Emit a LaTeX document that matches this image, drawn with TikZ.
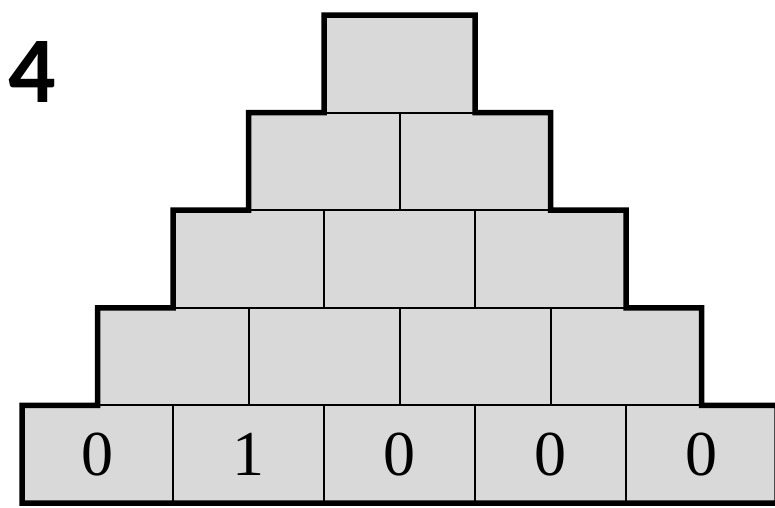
\documentclass[tikz,border=0pt]{standalone}
\usepackage{fontspec}
\setmainfont{Liberation Serif}
\newfontfamily\labelfont{Carlito}
\definecolor{boxgray}{HTML}{D9D9D9}
\begin{document}
\begin{tikzpicture}[x=1pt,y=-1pt,
  cell/.style={draw=black,fill=boxgray,line width=2pt,minimum width=151pt,minimum height=97.6pt,inner sep=0pt,outer sep=0pt,font=\fontsize{64}{64}\selectfont},
  outline/.style={draw=black,line width=5.5pt,line join=miter}]
\useasboundingbox (0,0) rectangle (775,507);
\clip (0,0) rectangle (775,507);
% row 5 (bottom)
\node[cell] (e1) at (97.5,454.2) {0};
\node[cell] (e2) at (248.5,454.2) {1};
\node[cell] (e3) at (399.5,454.2) {0};
\node[cell] (e4) at (550.5,454.2) {0};
\node[cell] (e5) at (701.5,454.2) {0};
% row 4
\node[cell] (d1) at (173,356.6) {};
\node[cell] (d2) at (324,356.6) {};
\node[cell] (d3) at (475,356.6) {};
\node[cell] (d4) at (626,356.6) {};
% row 3
\node[cell] (c1) at (248.5,259) {};
\node[cell] (c2) at (399.5,259) {};
\node[cell] (c3) at (550.5,259) {};
% row 2
\node[cell] (b1) at (324,161.4) {};
\node[cell] (b2) at (475,161.4) {};
% row 1
\node[cell] (a1) at (399.5,63.8) {};
% outer outline
\draw[outline] (e1.south west) -- (e1.north west) -- (d1.south west) -- (d1.north west)
  -- (c1.south west) -- (c1.north west) -- (b1.south west) -- (b1.north west)
  -- (a1.south west) -- (a1.north west) -- (a1.north east) -- (a1.south east)
  -- (b2.north east) -- (b2.south east) -- (c3.north east) -- (c3.south east)
  -- (d4.north east) -- (d4.south east) -- (e5.north east) -- (e5.south east) -- cycle;
\node[font=\labelfont\bfseries\fontsize{94}{94}\selectfont,anchor=center,inner sep=0pt] (num) at (32.5,72) {4};
\end{tikzpicture}
\end{document}
